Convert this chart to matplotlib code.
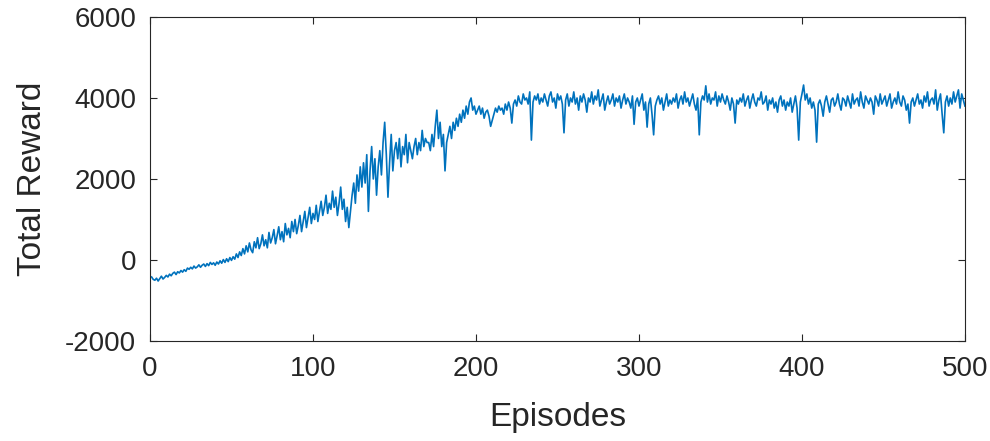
import numpy as np
import matplotlib
matplotlib.use("Agg")
import matplotlib.pyplot as plt

# total reward per training episode (episodes 1..500)
reward = [
    -420, -480, -500, -450, -520, -460, -400, -470, -430, -380,
    -420, -350, -390, -330, -300, -360, -290, -320, -260, -300,
    -240, -280, -200, -230, -180, -220, -150, -200, -170, -120,
    -180, -130, -100, -160, -90, -140, -60, -110, -70, -130,
    -50, -100, -20, -80, 10, -60, 30, -40, 60, -10,
    80, 20, 150, 60, 200, 110, 280, 150, 350, 200,
    420, 250, 180, 450, 300, 550, 280, 400, 620, 350,
    500, 300, 680, 420, 550, 750, 400, 600, 820, 500,
    700, 450, 900, 620, 780, 550, 950, 700, 1000, 650,
    850, 1100, 700, 950, 1200, 800, 1050, 1300, 900, 1150,
    1000, 1350, 950, 1200, 1450, 1100, 1300, 1600, 1150, 1400,
    1250, 1700, 1300, 1550, 1100, 1400, 1800, 1250, 1500, 950,
    1300, 800, 1200, 1600, 1900, 1400, 2100, 1700, 2300, 1800,
    2400, 1900, 2600, 1200, 2200, 2800, 2000, 2500, 1600, 2300,
    2700, 2100, 2900, 3400, 2600, 1550, 2400, 3100, 2200, 2700,
    2900, 2500, 3000, 2300, 2800, 2600, 3100, 2400, 2900, 2700,
    2500, 2800, 3000, 2600, 2900, 2700, 3200, 2800, 3000, 2900,
    2900, 2700, 3100, 2800, 3300, 3700, 3000, 3400, 2800, 3100,
    2200, 2900, 3100, 3300, 3000, 3400, 3200, 3500, 3300, 3600,
    3400, 3700, 3500, 3800, 3600, 3900, 4000, 3700, 3800, 3600,
    3700, 3800, 3600, 3750, 3500, 3650, 3700, 3550, 3300, 3450,
    3600, 3750, 3650, 3800, 3700, 3750, 3600, 3850, 3700, 3900,
    3750, 3380, 3850, 3950, 3800, 4050, 3900, 3850, 4100, 3950,
    4000, 3850, 4150, 2960, 3900, 4050, 3950, 4100, 3850, 4000,
    3900, 4100, 3950, 3800, 4050, 4150, 3900, 4000, 3750, 4100,
    3950, 4050, 3850, 3140, 3950, 4100, 3800, 4000, 3900, 4150,
    3850, 4000, 3700, 4050, 3900, 4100, 3950, 3650, 4000, 3900,
    4150, 3850, 4050, 3950, 4200, 3800, 3950, 4100, 3700, 3900,
    4050, 3850, 3950, 4100, 3800, 4000, 3900, 4050, 3750, 3950,
    4100, 3850, 4000, 3900, 3750, 4050, 3350, 3900, 4000, 3800,
    3950, 4100, 3700, 3900, 3280, 3850, 4000, 3600, 3090, 3800,
    3950, 4050, 3850, 4000, 3700, 3900, 4100, 3800, 3950, 3850,
    4000, 3900, 4100, 3750, 3950, 4050, 3850, 4150, 3900, 4000,
    3800, 3950, 4100, 3850, 3700, 4000, 3090, 3900, 4050, 3950,
    4300, 3900, 4100, 3850, 4000, 3950, 4150, 3800, 4050, 3900,
    4100, 3950, 3850, 4050, 3900, 3700, 4000, 3850, 3380, 3950,
    3850, 4000, 3900, 4100, 3800, 3950, 4050, 3750, 3950, 4100,
    3900, 3800, 4000, 3950, 4150, 3850, 3900, 4050, 3700, 3950,
    3850, 4000, 3750, 3900, 3650, 3950, 4050, 3800, 3950, 3700,
    3900, 3800, 4000, 3650, 3850, 4050, 3750, 2960, 3900, 4100,
    4320, 3950, 4100, 3850, 4000, 3750, 3900, 3700, 2910, 3850,
    3950, 3800, 3550, 3900, 4050, 3850, 3650, 3950, 4000, 3800,
    3900, 4100, 3850, 3700, 4000, 3950, 3800, 4050, 3900, 3750,
    4100, 3850, 3950, 4000, 3800, 4150, 3900, 3750, 4050, 3950,
    3850, 4000, 3900, 3600, 4050, 3950, 3800, 4100, 3850, 3950,
    4050, 3800, 3950, 4100, 3750, 3900, 4000, 3850, 4150, 3900,
    3800, 4050, 3950, 3700, 3850, 3380, 3900, 4000, 3800, 3950,
    4100, 3850, 3950, 3750, 4050, 3900, 4150, 3800, 3950, 4000,
    3850, 4200, 3700, 3950, 4100, 3600, 3140, 3900, 4050, 3800,
    4000, 3850, 4150, 3900, 4050, 4200, 3750, 4100, 3950, 3800,
]
episodes = np.arange(1, len(reward) + 1)

x_ticks = [0, 100, 200, 300, 400, 500]
y_ticks = [-2000, 0, 2000, 4000, 6000]

text_color = "#262626"
plt.rcParams["font.family"] = ["Liberation Sans", "DejaVu Sans"]
plt.rcParams["axes.unicode_minus"] = False

fig = plt.figure(figsize=(9.9, 4.41), dpi=100)
ax = fig.add_axes([0.1515, 0.2268, 0.8232, 0.7347])

ax.plot(episodes, reward, color="#0072BD", linewidth=1.2)

ax.set_xlim(0, 500)
ax.set_ylim(-2000, 6000)
ax.set_xticks(x_ticks)
ax.set_yticks(y_ticks)
ax.tick_params(direction="in", length=5, width=0.8, labelsize=20,
               colors=text_color, top=True, right=True)
ax.tick_params(axis="x", pad=11)
ax.tick_params(axis="y", pad=10)
for spine in ax.spines.values():
    spine.set_color(text_color)
    spine.set_linewidth(0.8)

ax.set_xlabel("Episodes", fontsize=24, color=text_color, labelpad=14)
ax.set_ylabel("Total Reward", fontsize=24, color=text_color, labelpad=12)

fig.savefig("out.png", dpi=100)
